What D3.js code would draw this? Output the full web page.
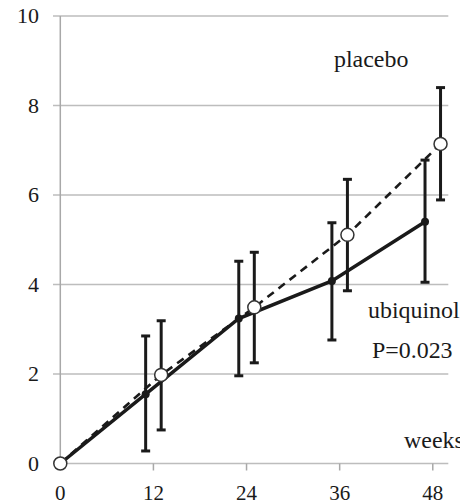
<!DOCTYPE html>
<html>
<head>
<meta charset="utf-8">
<script src="https://cdn.jsdelivr.net/npm/d3@7"></script>
<style>
  body { margin: 0; background: #fff; }
  svg text { font-family: "Liberation Serif", "Times New Roman", serif; fill: #1a1a1a; }
</style>
</head>
<body>
<svg id="chart" width="460" height="504"></svg>
<script>
// data
var weeks = [0, 12, 24, 36, 48];
var yTicks = [0, 2, 4, 6, 8, 10];

var ubiquinolMean = [0, 1.55, 3.24, 4.08, 5.40];
var ubiquinolHigh = [null, 2.85, 4.52, 5.38, 6.78];
var ubiquinolLow  = [null, 0.28, 1.96, 2.76, 4.05];

var placeboMean = [0, 1.98, 3.49, 5.11, 7.14];
var placeboHigh = [null, 3.19, 4.72, 6.35, 8.40];
var placeboLow  = [null, 0.75, 2.25, 3.86, 5.89];

var svg = d3.select("#chart");

var x = d3.scaleLinear().domain([0, 50]).range([60.3, 448.3]),
    y = d3.scaleLinear().domain([0, 10]).range([463.5, 16]);

// horizontal gridlines
svg.append("g")
    .selectAll("line")
    .data(yTicks)
    .enter().append("line")
    .attr("x1", 53)
    .attr("x2", x.range()[1])
    .attr("y1", function(d) { return y(d); })
    .attr("y2", function(d) { return y(d); })
    .attr("stroke", "#bdbdbd")
    .attr("stroke-width", 1.5);

// vertical axis line
svg.append("line")
    .attr("x1", x(0)).attr("x2", x(0))
    .attr("y1", y(10)).attr("y2", y(0))
    .attr("stroke", "#a8a8a8")
    .attr("stroke-width", 1.5);

// x ticks below the axis
svg.append("g")
    .selectAll("line")
    .data(weeks.slice(1))
    .enter().append("line")
    .attr("x1", function(d) { return x(d); })
    .attr("x2", function(d) { return x(d); })
    .attr("y1", y(0))
    .attr("y2", y(0) + 7)
    .attr("stroke", "#a8a8a8")
    .attr("stroke-width", 1.5);

svg.append("g")
    .selectAll("text")
    .data(yTicks)
    .enter().append("text")
    .attr("x", 39)
    .attr("y", function(d) { return y(d); })
    .attr("dy", "0.34em")
    .attr("text-anchor", "end")
    .attr("font-size", 22)
    .text(function(d) { return d; });

svg.append("g")
    .selectAll("text")
    .data(weeks)
    .enter().append("text")
    .attr("x", function(d) { return x(d); })
    .attr("y", 500)
    .attr("text-anchor", "middle")
    .attr("font-size", 21)
    .text(function(d) { return d; });

// series: placebo shifted right one week, ubiquinol shifted left
function rows(mean, high, low, shift) {
    return weeks.map(function(w, i) {
        return {x: w + shift, m: mean[i], hi: high[i], lo: low[i]};
    });
}
var ubi = rows(ubiquinolMean, ubiquinolHigh, ubiquinolLow, -1),
    pla = rows(placeboMean, placeboHigh, placeboLow, 1);
ubi[0].x = 0;
pla[0].x = 0;

var line = d3.line()
    .x(function(d) { return x(d.x); })
    .y(function(d) { return y(d.m); });

svg.append("path")
    .attr("d", line(pla))
    .attr("fill", "none")
    .attr("stroke", "#1a1a1a")
    .attr("stroke-width", 2.6)
    .attr("stroke-dasharray", "8,6");

svg.append("path")
    .attr("d", line(ubi))
    .attr("fill", "none")
    .attr("stroke", "#1a1a1a")
    .attr("stroke-width", 3.5);

function errorBars(data) {
    var g = svg.append("g")
        .selectAll("g")
        .data(data.filter(function(d) { return d.hi != null; }))
        .enter().append("g")
        .attr("stroke", "#1a1a1a")
        .attr("stroke-width", 3);
    g.append("line")
        .attr("x1", function(d) { return x(d.x); })
        .attr("x2", function(d) { return x(d.x); })
        .attr("y1", function(d) { return y(d.hi); })
        .attr("y2", function(d) { return y(d.lo); });
    g.append("line")
        .attr("x1", function(d) { return x(d.x) - 4.5; })
        .attr("x2", function(d) { return x(d.x) + 4.5; })
        .attr("y1", function(d) { return y(d.hi); })
        .attr("y2", function(d) { return y(d.hi); });
    g.append("line")
        .attr("x1", function(d) { return x(d.x) - 4.5; })
        .attr("x2", function(d) { return x(d.x) + 4.5; })
        .attr("y1", function(d) { return y(d.lo); })
        .attr("y2", function(d) { return y(d.lo); });
}
errorBars(ubi);
errorBars(pla);

svg.append("g")
    .selectAll("circle")
    .data(ubi.slice(1))
    .enter().append("circle")
    .attr("cx", function(d) { return x(d.x); })
    .attr("cy", function(d) { return y(d.m); })
    .attr("r", 4)
    .attr("fill", "#1a1a1a");

svg.append("g")
    .selectAll("circle")
    .data(pla)
    .enter().append("circle")
    .attr("cx", function(d) { return x(d.x); })
    .attr("cy", function(d) { return y(d.m); })
    .attr("r", 6.5)
    .attr("fill", "#fff")
    .attr("stroke", "#333")
    .attr("stroke-width", 1.5);

// annotations (the source lettering is a little wide)
var notes = [
    {t: "placebo", x: 334, y: 67},
    {t: "ubiquinol", x: 368, y: 318},
    {t: "P=0.023", x: 372, y: 358},
    {t: "weeks", x: 404, y: 448}
];
svg.append("g")
    .selectAll("text")
    .data(notes)
    .enter().append("text")
    .attr("transform", function(d) { return "translate(" + d.x + "," + d.y + ") scale(1.04,1)"; })
    .attr("font-size", 23)
    .text(function(d) { return d.t; });
</script>
</body>
</html>
